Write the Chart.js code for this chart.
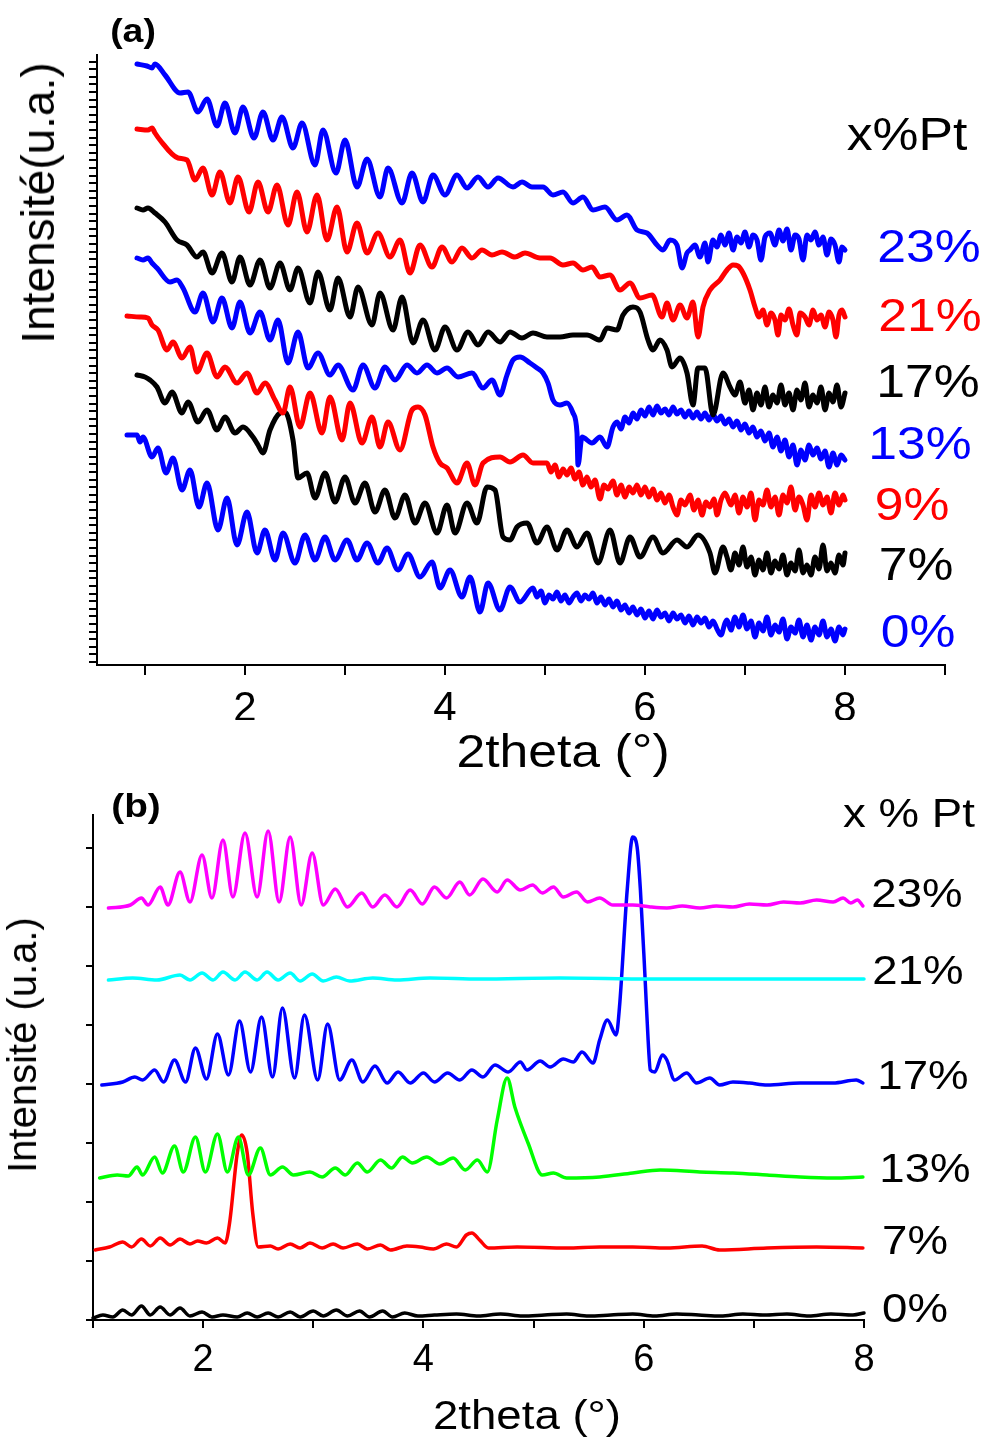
<!DOCTYPE html>
<html>
<head>
<meta charset="utf-8">
<script src="https://cdn.jsdelivr.net/npm/chart.js@4.4.0/dist/chart.umd.min.js"></script>
<style>
body { margin: 0; background: #fff; width: 987px; height: 1437px; position: relative; overflow: hidden;
       font-family: "Liberation Sans", Arial, sans-serif; }
canvas { position: absolute; left: 0; }
.t { position: absolute; white-space: nowrap; line-height: 1; transform: translate(-50%, -50%) scaleX(1.1); }
.tb { transform: translate(-50%, -50%) scaleX(1.14); }
.rot { position: absolute; white-space: nowrap; line-height: 1; transform: translate(-50%, -50%) rotate(-90deg); }
</style>
</head>
<body>
<canvas id="chartA" width="987" height="720" style="top:0"></canvas>
<canvas id="chartB" width="987" height="717" style="top:720px"></canvas>

<div class="t" style="left:133px;top:30px;font-size:34px;font-weight:bold">(a)</div>
<div class="t" style="left:907px;top:133px;font-size:47px">x%Pt</div>
<div class="t" style="left:929px;top:245px;font-size:47px;color:#0000ff">23%</div>
<div class="t" style="left:930px;top:314px;font-size:47px;color:#ff0000">21%</div>
<div class="t" style="left:928px;top:380px;font-size:47px">17%</div>
<div class="t" style="left:920px;top:442px;font-size:47px;color:#0000ff">13%</div>
<div class="t" style="left:912px;top:503px;font-size:47px;color:#ff0000">9%</div>
<div class="t" style="left:916px;top:563px;font-size:47px">7%</div>
<div class="t" style="left:918px;top:630px;font-size:47px;color:#0000ff">0%</div>
<div class="t" style="left:563px;top:750px;font-size:47px">2theta (°)</div>
<div class="rot" style="left:38px;top:203px;font-size:46px">Intensité(u.a.)</div>

<div class="t tb" style="left:136px;top:805px;font-size:34px;font-weight:bold">(b)</div>
<div class="t tb" style="left:909px;top:813px;font-size:40px">x % Pt</div>
<div class="t tb" style="left:917px;top:893px;font-size:40px">23%</div>
<div class="t tb" style="left:918px;top:970px;font-size:40px">21%</div>
<div class="t tb" style="left:923px;top:1075px;font-size:40px">17%</div>
<div class="t tb" style="left:925px;top:1168px;font-size:40px">13%</div>
<div class="t tb" style="left:915px;top:1240px;font-size:40px">7%</div>
<div class="t tb" style="left:915px;top:1308px;font-size:40px">0%</div>
<div class="t tb" style="left:527px;top:1415px;font-size:40px">2theta (°)</div>
<div class="rot" style="left:22px;top:1045px;font-size:40px">Intensité (u.a.)</div>

<script>
// panel (a) : [2theta, intensity u.a.]
var a23 = [[0.92,601],[1.02,599],[1.07,597],[1.10,601],[1.20,590],[1.35,572],[1.43,573],[1.53,553],[1.62,566],[1.72,539],[1.80,562],[1.90,532],[1.98,558],[2.09,527],[2.18,553],[2.28,525],[2.37,548],[2.48,517],[2.57,542],[2.70,500],[2.78,535],[2.91,492],[3.00,525],[3.12,478],[3.22,506],[3.35,468],[3.43,497],[3.57,462],[3.67,492],[3.78,463],[3.88,490],[4.00,470],[4.12,490],[4.22,477],[4.33,488],[4.43,478],[4.53,487],[4.68,478],[4.77,483],[4.87,478],[4.98,478],[5.08,470],[5.18,473],[5.28,462],[5.38,468],[5.48,455],[5.60,458],[5.72,445],[5.82,450],[5.92,435],[6.02,432],[6.12,420],[6.18,415],[6.25,425],[6.32,420],[6.37,397],[6.42,412],[6.45,415],[6.50,420],[6.55,408],[6.60,422],[6.63,403],[6.68,425],[6.72,418],[6.76,430],[6.80,420],[6.84,432],[6.88,415],[6.92,428],[6.96,422],[7.00,433],[7.04,418],[7.08,430],[7.12,425],[7.16,405],[7.20,428],[7.25,432],[7.30,420],[7.34,435],[7.38,424],[7.42,436],[7.46,415],[7.50,430],[7.54,426],[7.58,405],[7.62,430],[7.66,425],[7.70,433],[7.74,420],[7.78,428],[7.82,410],[7.86,426],[7.90,420],[7.94,403],[7.97,418],[8.00,415]];
var a21 = [[0.92,536],[1.03,535],[1.07,537],[1.10,532],[1.15,525],[1.33,507],[1.42,505],[1.50,485],[1.58,497],[1.67,470],[1.75,493],[1.85,462],[1.93,488],[2.04,453],[2.13,483],[2.23,453],[2.32,480],[2.43,440],[2.52,473],[2.62,433],[2.72,470],[2.82,425],[2.92,458],[3.02,413],[3.12,442],[3.22,412],[3.33,432],[3.45,408],[3.55,425],[3.65,392],[3.75,420],[3.87,398],[3.97,418],[4.07,403],[4.17,417],[4.27,407],[4.37,415],[4.47,410],[4.57,413],[4.70,408],[4.80,412],[4.95,407],[5.05,407],[5.18,400],[5.28,402],[5.38,395],[5.47,398],[5.55,388],[5.65,390],[5.75,375],[5.85,382],[5.95,367],[6.07,370],[6.17,348],[6.22,362],[6.28,345],[6.35,360],[6.42,347],[6.48,363],[6.53,328],[6.58,358],[6.65,375],[6.75,385],[6.82,395],[6.88,400],[6.93,399],[6.98,392],[7.05,375],[7.10,358],[7.14,348],[7.18,355],[7.22,340],[7.26,352],[7.30,345],[7.33,330],[7.36,350],[7.40,345],[7.44,356],[7.48,340],[7.52,330],[7.55,352],[7.60,348],[7.64,340],[7.68,355],[7.72,345],[7.76,350],[7.80,338],[7.84,353],[7.88,345],[7.91,328],[7.94,350],[7.97,355],[8.00,348]];
var a17 = [[0.92,457],[0.98,455],[1.03,457],[1.10,452],[1.20,443],[1.32,425],[1.42,420],[1.52,408],[1.58,413],[1.67,392],[1.77,412],[1.87,383],[1.95,408],[2.05,380],[2.15,405],[2.25,377],[2.35,402],[2.45,375],[2.53,397],[2.65,362],[2.73,393],[2.85,355],[2.93,387],[3.05,348],[3.13,378],[3.27,340],[3.35,372],[3.48,335],[3.57,368],[3.68,322],[3.78,345],[3.90,315],[4.00,338],[4.12,315],[4.23,333],[4.33,320],[4.43,333],[4.55,323],[4.65,333],[4.77,327],[4.88,332],[5.02,328],[5.15,328],[5.28,330],[5.42,330],[5.55,325],[5.62,337],[5.72,335],[5.78,350],[5.88,358],[5.95,353],[6.03,325],[6.08,315],[6.15,325],[6.22,315],[6.27,298],[6.35,307],[6.42,292],[6.48,260],[6.53,297],[6.60,297],[6.68,250],[6.78,292],[6.85,278],[6.90,270],[6.95,283],[7.00,262],[7.04,275],[7.08,255],[7.12,272],[7.16,260],[7.20,278],[7.24,258],[7.28,270],[7.32,262],[7.36,280],[7.40,260],[7.44,272],[7.48,255],[7.52,275],[7.56,265],[7.60,282],[7.64,258],[7.68,270],[7.72,262],[7.76,278],[7.80,255],[7.84,272],[7.88,263],[7.92,280],[7.96,258],[8.00,272]];
var a13 = [[0.92,407],[0.98,405],[1.03,407],[1.07,402],[1.12,397],[1.25,383],[1.32,385],[1.38,377],[1.50,353],[1.58,372],[1.68,343],[1.77,367],[1.87,337],[1.95,363],[2.05,332],[2.15,353],[2.25,325],[2.33,345],[2.43,302],[2.53,333],[2.63,297],[2.73,312],[2.85,290],[2.93,300],[3.08,275],[3.18,300],[3.30,277],[3.40,298],[3.50,285],[3.62,300],[3.72,292],[3.82,300],[3.92,292],[4.02,297],[4.13,288],[4.27,292],[4.38,277],[4.47,285],[4.55,270],[4.62,290],[4.68,305],[4.75,308],[4.85,302],[4.92,297],[4.98,292],[5.03,282],[5.08,265],[5.15,260],[5.22,262],[5.28,252],[5.32,232],[5.33,200],[5.37,228],[5.47,222],[5.55,228],[5.62,218],[5.68,238],[5.72,243],[5.76,236],[5.80,248],[5.84,242],[5.88,252],[5.92,246],[5.96,255],[6.00,249],[6.04,258],[6.08,250],[6.12,259],[6.16,252],[6.20,256],[6.24,250],[6.28,258],[6.32,251],[6.36,255],[6.40,248],[6.44,254],[6.48,247],[6.52,253],[6.56,246],[6.60,252],[6.64,245],[6.68,251],[6.72,244],[6.76,249],[6.80,241],[6.84,246],[6.88,238],[6.92,244],[6.96,235],[7.00,241],[7.04,232],[7.08,238],[7.12,228],[7.16,234],[7.20,224],[7.24,232],[7.28,218],[7.32,228],[7.36,214],[7.40,225],[7.44,208],[7.48,220],[7.52,200],[7.56,215],[7.60,205],[7.64,220],[7.68,210],[7.72,217],[7.76,206],[7.80,214],[7.84,198],[7.88,212],[7.92,200],[7.96,210],[8.00,205]];
var a9 = [[0.82,349],[0.95,348],[1.03,347],[1.07,340],[1.13,335],[1.22,315],[1.28,323],[1.37,307],[1.45,318],[1.52,293],[1.62,312],[1.72,288],[1.80,298],[1.92,282],[2.02,292],[2.12,272],[2.20,282],[2.30,265],[2.38,252],[2.45,278],[2.55,238],[2.65,272],[2.77,232],[2.85,268],[2.97,225],[3.05,262],[3.17,222],[3.27,248],[3.35,218],[3.43,243],[3.55,215],[3.67,255],[3.73,258],[3.80,250],[3.88,218],[3.95,202],[4.02,197],[4.12,182],[4.22,202],[4.30,180],[4.38,202],[4.55,208],[4.65,203],[4.78,210],[4.88,202],[5.02,202],[5.06,193],[5.10,200],[5.14,188],[5.18,196],[5.22,190],[5.26,197],[5.30,186],[5.34,193],[5.38,180],[5.42,188],[5.46,178],[5.50,185],[5.55,166],[5.59,180],[5.63,176],[5.68,184],[5.72,170],[5.76,180],[5.80,168],[5.84,178],[5.88,172],[5.92,180],[5.96,170],[6.00,178],[6.04,168],[6.08,176],[6.12,165],[6.16,172],[6.20,162],[6.24,170],[6.28,158],[6.32,150],[6.36,165],[6.40,160],[6.45,170],[6.49,155],[6.53,165],[6.57,150],[6.61,163],[6.65,158],[6.69,166],[6.72,150],[6.76,165],[6.80,172],[6.86,160],[6.90,170],[6.94,152],[6.98,168],[7.02,158],[7.06,172],[7.10,145],[7.14,165],[7.18,160],[7.22,175],[7.26,158],[7.30,168],[7.34,150],[7.38,170],[7.42,162],[7.46,178],[7.50,155],[7.54,168],[7.58,160],[7.62,145],[7.66,170],[7.70,158],[7.74,172],[7.78,160],[7.82,168],[7.86,152],[7.90,172],[7.94,160],[7.98,170],[8.00,165]];
var a7 = [[0.92,290],[1.00,288],[1.05,285],[1.12,278],[1.20,262],[1.27,273],[1.37,252],[1.43,263],[1.53,243],[1.62,255],[1.72,235],[1.80,248],[1.90,232],[1.98,238],[2.08,228],[2.13,220],[2.18,212],[2.25,235],[2.35,252],[2.40,253],[2.48,225],[2.53,187],[2.62,192],[2.70,167],[2.80,192],[2.90,163],[3.00,188],[3.10,162],[3.20,182],[3.30,153],[3.40,175],[3.50,147],[3.60,170],[3.70,142],[3.80,162],[3.92,132],[4.02,160],[4.10,132],[4.22,162],[4.32,142],[4.42,178],[4.50,175],[4.58,128],[4.65,125],[4.72,138],[4.82,142],[4.92,122],[5.02,138],[5.12,115],[5.22,135],[5.32,118],[5.42,132],[5.53,102],[5.65,135],[5.75,102],[5.85,128],[5.95,108],[6.08,128],[6.18,112],[6.32,125],[6.42,118],[6.53,130],[6.65,112],[6.70,92],[6.78,118],[6.82,108],[6.86,95],[6.90,112],[6.94,100],[6.98,118],[7.02,98],[7.06,108],[7.10,90],[7.14,105],[7.18,95],[7.22,112],[7.26,92],[7.30,104],[7.34,96],[7.38,110],[7.42,90],[7.46,102],[7.50,94],[7.54,115],[7.58,92],[7.62,100],[7.66,90],[7.70,108],[7.74,96],[7.78,120],[7.82,94],[7.86,102],[7.90,92],[7.94,110],[7.98,100],[8.00,112]];
var a0 = [[0.82,230],[0.92,230],[0.95,223],[0.98,228],[1.07,208],[1.13,217],[1.21,192],[1.28,207],[1.37,175],[1.45,195],[1.54,158],[1.62,182],[1.73,135],[1.82,167],[1.92,120],[2.02,153],[2.12,112],[2.20,135],[2.30,105],[2.38,132],[2.50,102],[2.60,130],[2.70,105],[2.80,128],[2.90,105],[3.02,125],[3.12,105],[3.22,122],[3.33,102],[3.42,117],[3.53,95],[3.63,111],[3.75,88],[3.87,103],[3.95,77],[4.05,95],[4.17,68],[4.25,88],[4.35,53],[4.43,82],[4.55,55],[4.65,78],[4.75,63],[4.88,77],[4.92,68],[4.96,74],[5.00,62],[5.04,70],[5.08,66],[5.12,73],[5.16,64],[5.20,70],[5.24,62],[5.28,68],[5.32,72],[5.36,64],[5.40,70],[5.44,66],[5.48,72],[5.52,62],[5.56,68],[5.60,60],[5.64,66],[5.68,58],[5.72,64],[5.76,55],[5.80,60],[5.84,52],[5.88,58],[5.92,50],[5.96,56],[6.00,47],[6.04,54],[6.08,46],[6.12,55],[6.16,48],[6.20,52],[6.24,44],[6.28,52],[6.32,46],[6.36,50],[6.40,42],[6.44,49],[6.48,40],[6.52,48],[6.56,42],[6.60,47],[6.64,38],[6.68,44],[6.72,36],[6.76,30],[6.80,42],[6.82,45],[6.86,35],[6.90,48],[6.94,38],[6.98,50],[7.02,36],[7.06,44],[7.10,28],[7.14,42],[7.18,34],[7.22,48],[7.26,30],[7.30,40],[7.34,33],[7.38,46],[7.42,26],[7.46,38],[7.50,32],[7.54,45],[7.58,28],[7.62,40],[7.66,25],[7.70,38],[7.74,30],[7.78,44],[7.82,28],[7.86,36],[7.90,24],[7.94,38],[7.98,30],[8.00,36]];

// panel (b)
var b23 = [[1.14,412],[1.34,415],[1.44,422],[1.50,415],[1.61,433],[1.68,415],[1.79,448],[1.88,418],[1.99,465],[2.08,422],[2.18,480],[2.27,423],[2.38,487],[2.49,423],[2.59,489],[2.69,418],[2.79,483],[2.89,415],[2.99,467],[3.09,415],[3.20,431],[3.31,413],[3.44,427],[3.54,413],[3.65,425],[3.76,413],[3.88,430],[3.99,416],[4.10,433],[4.21,422],[4.33,438],[4.42,425],[4.54,441],[4.67,428],[4.76,440],[4.88,430],[4.99,435],[5.08,427],[5.18,433],[5.27,423],[5.39,428],[5.49,418],[5.60,422],[5.72,415],[5.90,415],[6.06,413],[6.21,412],[6.35,414],[6.51,412],[6.66,414],[6.81,413],[6.96,416],[7.12,415],[7.27,418],[7.42,417],[7.57,420],[7.72,418],[7.81,422],[7.88,417],[7.94,420],[7.99,414]];
var b21 = [[1.14,340],[1.36,342],[1.58,340],[1.79,345],[1.88,340],[1.99,347],[2.09,340],[2.18,348],[2.29,340],[2.38,348],[2.49,340],[2.58,348],[2.68,340],[2.79,347],[2.88,339],[2.99,346],[3.09,339],[3.21,343],[3.33,339],[3.54,342],[3.76,340],[4.06,342],[4.51,341],[5.24,342],[6.06,341],[6.96,341],[8.00,341]];
var b17 = [[1.08,235],[1.27,238],[1.38,243],[1.45,240],[1.56,250],[1.64,238],[1.74,260],[1.84,238],[1.93,272],[2.03,241],[2.13,286],[2.23,245],[2.33,299],[2.43,248],[2.53,303],[2.63,243],[2.72,312],[2.83,242],[2.92,305],[3.04,240],[3.13,296],[3.24,240],[3.35,260],[3.45,238],[3.56,254],[3.67,237],[3.77,248],[3.88,237],[4.00,247],[4.10,238],[4.22,247],[4.33,240],[4.44,250],[4.54,243],[4.65,255],[4.77,248],[4.88,258],[4.94,250],[5.06,259],[5.15,253],[5.27,261],[5.36,258],[5.44,268],[5.54,257],[5.60,280],[5.67,300],[5.75,285],[5.78,313],[5.85,430],[5.90,483],[5.94,473],[5.97,430],[6.01,347],[6.04,280],[6.06,250],[6.10,248],[6.17,265],[6.21,260],[6.28,240],[6.39,247],[6.48,237],[6.60,242],[6.69,235],[6.81,238],[6.96,237],[7.12,235],[7.42,237],[7.72,237],[7.93,240],[7.99,237]];
var b13 = [[1.06,142],[1.22,145],[1.32,144],[1.40,153],[1.45,145],[1.56,163],[1.63,147],[1.74,174],[1.82,148],[1.93,183],[2.02,148],[2.13,186],[2.22,148],[2.32,183],[2.41,145],[2.52,172],[2.61,145],[2.72,153],[2.82,145],[2.97,148],[3.08,143],[3.20,152],[3.29,145],[3.40,157],[3.49,148],[3.61,160],[3.71,152],[3.81,163],[3.90,157],[4.03,163],[4.15,156],[4.27,162],[4.38,150],[4.49,160],[4.58,148],[4.67,200],[4.76,242],[4.83,213],[4.95,177],[5.08,145],[5.18,147],[5.30,142],[5.60,143],[5.90,147],[6.15,150],[6.51,148],[6.81,147],[7.12,145],[7.42,143],[7.72,142],[7.99,143]];
var b7 = [[1.02,70],[1.15,73],[1.27,78],[1.35,73],[1.44,81],[1.52,74],[1.61,82],[1.70,75],[1.79,81],[1.88,76],[1.95,79],[2.03,77],[2.13,82],[2.20,77],[2.24,97],[2.31,167],[2.35,185],[2.40,167],[2.45,107],[2.50,73],[2.61,74],[2.68,71],[2.79,76],[2.88,72],[2.97,77],[3.08,72],[3.18,76],[3.27,72],[3.40,76],[3.49,71],[3.61,75],[3.70,70],[3.85,74],[3.97,73],[4.09,71],[4.21,76],[4.30,73],[4.39,85],[4.44,87],[4.51,80],[4.59,72],[4.85,73],[5.30,72],[5.60,73],[5.90,73],[6.21,72],[6.53,74],[6.69,70],[7.12,72],[7.57,73],[7.99,72]];
var b0 = [[1.00,2],[1.09,5],[1.18,3],[1.27,10],[1.35,5],[1.44,14],[1.52,5],[1.61,13],[1.70,5],[1.79,12],[1.88,4],[1.99,8],[2.08,3],[2.18,5],[2.31,3],[2.40,7],[2.49,3],[2.59,7],[2.68,3],[2.79,8],[2.88,3],[3.00,9],[3.09,4],[3.21,10],[3.31,4],[3.42,9],[3.51,3],[3.63,9],[3.72,3],[3.83,7],[3.95,4],[4.10,5],[4.30,6],[4.50,4],[4.70,6],[4.90,4],[5.10,5],[5.30,6],[5.50,4],[5.70,5],[5.90,6],[6.10,4],[6.30,6],[6.50,5],[6.70,4],[6.90,6],[7.10,5],[7.30,6],[7.50,4],[7.70,6],[7.90,5],[8.00,7]];

var seriesA = [a23, a21, a17, a13, a9, a7, a0];
var colorsA = ['#0000ff', '#ff0000', '#000000', '#0000ff', '#ff0000', '#000000', '#0000ff'];
var seriesB = [b23, b21, b17, b13, b7, b0];
var colorsB = ['#ff00ff', '#00ffff', '#0000ff', '#00ff00', '#ff0000', '#000000'];

var xTicksA = [1, 2, 3, 4, 5, 6, 7, 8, 9];
var xTicksB = [1, 2, 3, 4, 5, 6, 7, 8];
var xLabels = [2, 4, 6, 8];
var yTicksB = [0, 59, 118, 177, 236, 295, 354, 413, 472];
var yTicksA = [];
for (var v = 3; v <= 610; v += 7.6) { yTicksA.push(v); }

function toDatasets(series, colors, width) {
    return series.map(function (s, i) {
        return {
            data: s.map(function (p) { return { x: p[0], y: p[1] }; }),
            borderColor: colors[i],
            borderWidth: width,
            borderJoinStyle: 'round',
            borderCapStyle: 'round',
            showLine: true,
            pointRadius: 0,
            cubicInterpolationMode: 'monotone',
            fill: false,
            clip: false
        };
    });
}

function axisOpts(extra) {
    var base = {
        type: 'linear',
        grid: { drawOnChartArea: false, drawTicks: true, color: '#000', lineWidth: 2 },
        border: { display: true, color: '#000', width: 2 }
    };
    return Object.assign(base, extra);
}

function makeChart(id, series, colors, width, o) {
    return new Chart(document.getElementById(id), {
        type: 'scatter',
        data: { datasets: toDatasets(series, colors, width) },
        options: {
            responsive: false,
            animation: false,
            devicePixelRatio: 1,
            layout: { padding: { left: 0, right: o.right, top: o.top, bottom: 0 } },
            plugins: { legend: { display: false }, tooltip: { enabled: false } },
            scales: {
                x: axisOpts({
                    min: o.xmin, max: o.xmax,
                    afterBuildTicks: function (s) { s.ticks = o.xticks.map(function (v) { return { value: v }; }); },
                    afterFit: function (s) { s.height = o.xh; },
                    grid: { drawOnChartArea: false, color: '#000', lineWidth: 2, tickLength: o.xtl },
                    ticks: {
                        color: '#000', autoSkip: false, maxRotation: 0, padding: o.xpad,
                        font: { family: 'Liberation Sans', size: o.fs },
                        callback: function (v) { return xLabels.indexOf(v) >= 0 ? String(v) : ''; }
                    }
                }),
                y: axisOpts({
                    min: 0, max: o.ymax,
                    afterBuildTicks: function (s) { s.ticks = o.yticks.map(function (v) { return { value: v }; }); },
                    afterFit: function (s) { s.width = o.yw; },
                    grid: { drawOnChartArea: false, color: '#000', lineWidth: 2, tickLength: o.ytl },
                    ticks: { display: false }
                })
            }
        }
    });
}

var chartA = makeChart('chartA', seriesA, colorsA, 5, {
    right: 42, top: 55, xmin: 0.52, xmax: 9, xticks: xTicksA, xh: 55, xtl: 10, xpad: 9, fs: 42,
    ymax: 610, yticks: yTicksA, yw: 97, ytl: 8
});
var chartB = makeChart('chartB', seriesB, colorsB, 3.5, {
    right: 123, top: 95, xmin: 1, xmax: 8, xticks: xTicksB, xh: 117, xtl: 8, xpad: 10, fs: 38,
    ymax: 505, yticks: yTicksB, yw: 93, ytl: 7
});
</script>
</body>
</html>
